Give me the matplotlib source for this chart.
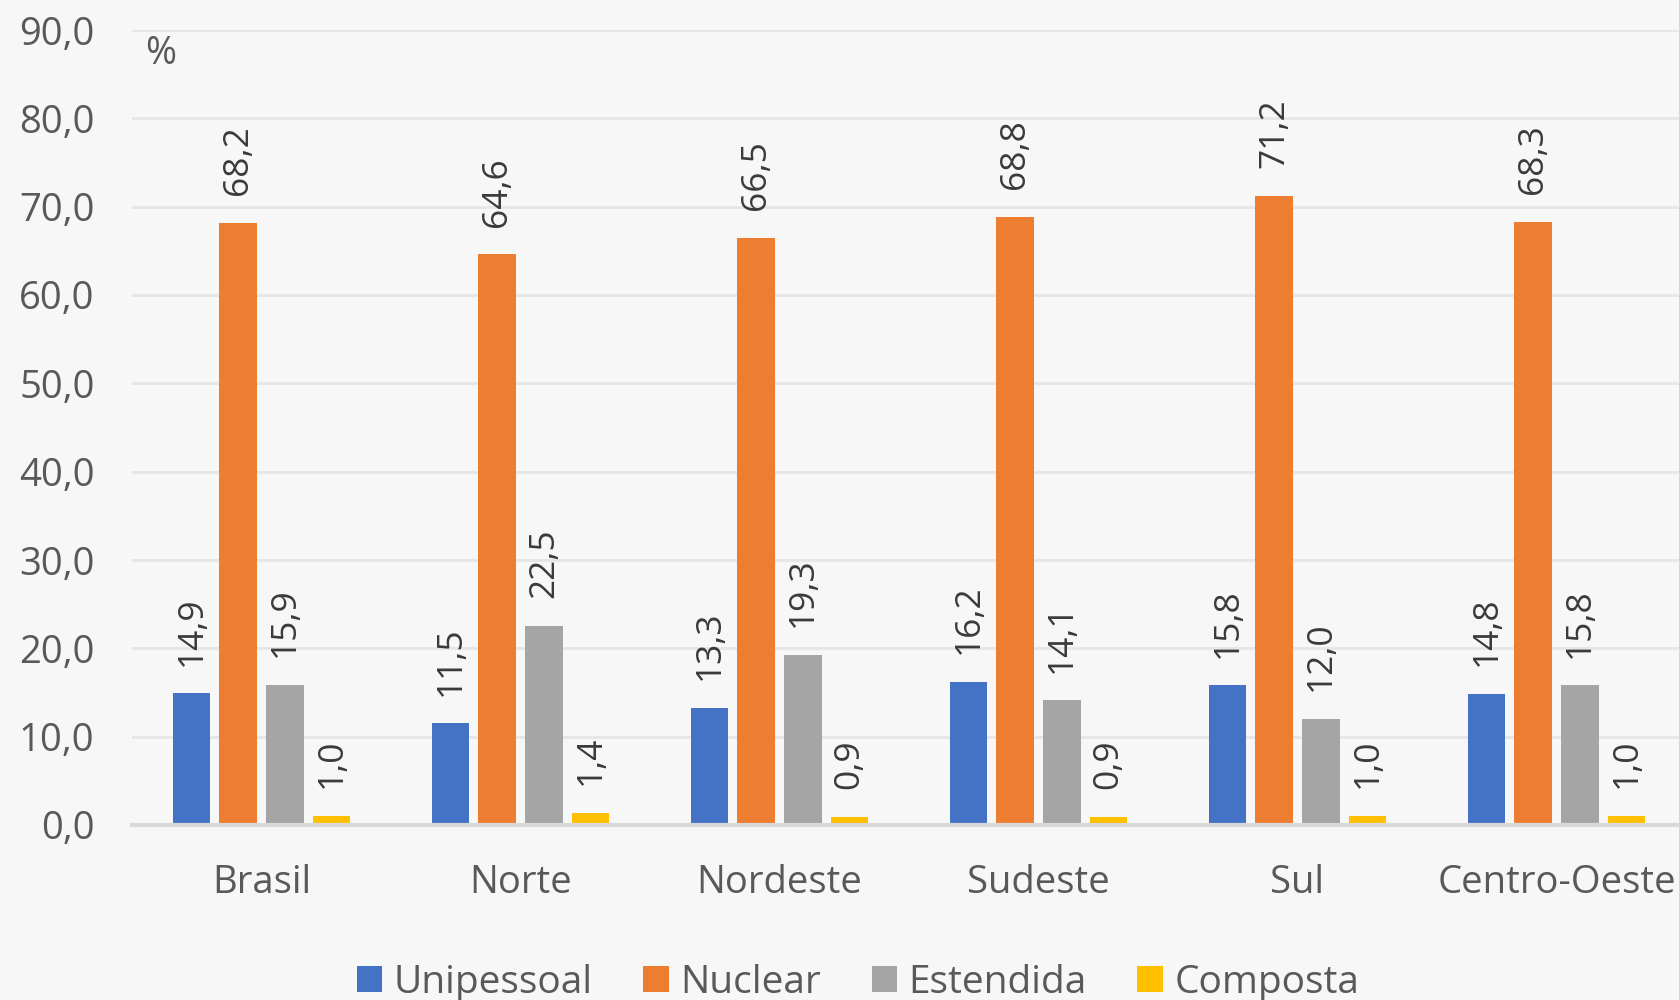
import matplotlib
matplotlib.use('Agg')
import matplotlib.pyplot as plt
import numpy as np

regioes = ['Brasil', 'Norte', 'Nordeste', 'Sudeste', 'Sul', 'Centro-Oeste']
unipessoal = [14.9, 11.5, 13.3, 16.2, 15.8, 14.8]
nuclear = [68.2, 64.6, 66.5, 68.8, 71.2, 68.3]
estendida = [15.9, 22.5, 19.3, 14.1, 12.0, 15.8]
composta = [1.0, 1.4, 0.9, 0.9, 1.0, 1.0]

series = [('Unipessoal', unipessoal, '#4472C4'),
          ('Nuclear', nuclear, '#ED7D31'),
          ('Estendida', estendida, '#A5A5A5'),
          ('Composta', composta, '#FFC000')]

plt.rcParams['font.family'] = ['Open Sans', 'DejaVu Sans']
bg = '#f7f7f7'

fig = plt.figure(figsize=(16.79, 10), dpi=100, facecolor=bg)
ax = fig.add_axes([132 / 1679, 0.175, 1554 / 1679, 0.795])
ax.set_facecolor(bg)

x = np.arange(len(regioes))
pitch = 0.18
width = 0.145
for i, (name, vals, color) in enumerate(series):
    pos = x + (i - 1.5) * pitch
    bars = ax.bar(pos, vals, width=width, color=color, label=name, zorder=3)
    for b, v in zip(bars, vals):
        ax.annotate(f'{v:.1f}'.replace('.', ','),
                    xy=(b.get_x() + b.get_width() / 2, v),
                    xytext=(0, 20), textcoords='offset points',
                    rotation=90, ha='center', va='bottom',
                    fontsize=25.5, color='#3a3a3a')

ax.set_xlim(-0.5, len(regioes) - 0.5)
ax.set_ylim(0, 90)
ax.set_yticks(np.arange(0, 91, 10))
ax.set_yticklabels([f'{t:.1f}'.replace('.', ',') for t in np.arange(0, 91, 10)])
ax.set_xticks(x)
ax.set_xticklabels(regioes)
ax.tick_params(axis='y', length=0, pad=27, labelsize=27.5, labelcolor='#595959')
ax.tick_params(axis='x', length=0, pad=28, labelsize=27.5, labelcolor='#595959')
ax.grid(axis='y', color='#e6e6e6', linewidth=2, zorder=0)
for s in ['top', 'right', 'left']:
    ax.spines[s].set_visible(False)
ax.spines['bottom'].set_color('#d9d9d9')
ax.spines['bottom'].set_linewidth(3)
ax.spines['bottom'].set_zorder(4)

fig.text(161 / 1679, 1 - 54 / 1000, '%', fontsize=27, color='#595959',
         ha='center', va='center')

fig.legend(loc='center', bbox_to_anchor=(858 / 1679, 0.017), ncol=4,
           frameon=False, fontsize=28, labelcolor='#595959',
           handlelength=0.65, handleheight=0.65, handletextpad=0.3,
           columnspacing=1.3)

fig.savefig('out.png', dpi=100, facecolor=bg)
